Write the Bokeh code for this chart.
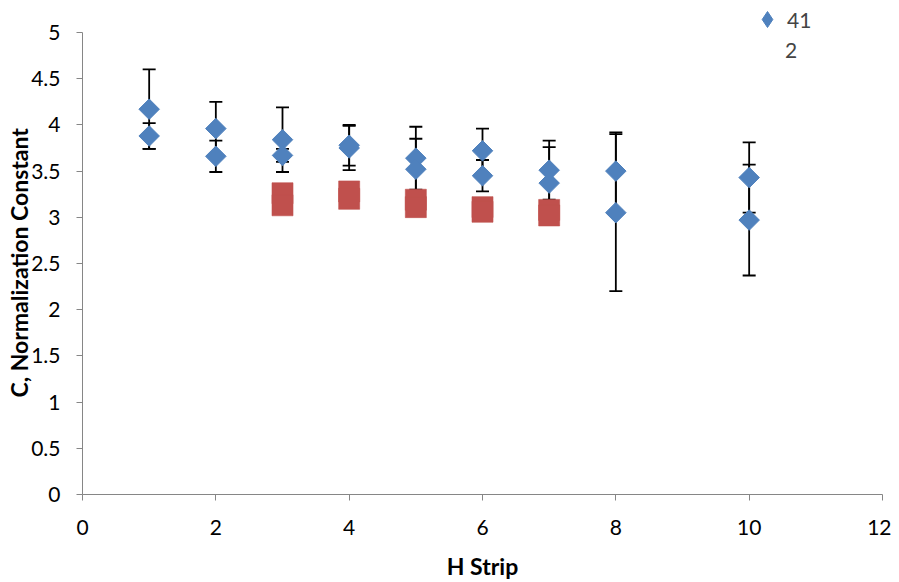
import numpy as np
from bokeh.plotting import figure
from bokeh.models import (ColumnDataSource, Whisker, TeeHead, Legend,
                          LegendItem, FixedTicker, Range1d, Title)
from bokeh.embed import file_html
from bokeh.resources import INLINE

# ---- data ----
x_41 = [1, 1, 2, 2, 3, 3, 4, 4, 5, 5, 6, 6, 7, 7, 8, 8, 10, 10]
y_41 = [4.17, 3.88, 3.96, 3.66, 3.84, 3.67, 3.78, 3.75, 3.64, 3.52,
        3.72, 3.45, 3.51, 3.37, 3.50, 3.05, 3.43, 2.97]
err_41 = [0.43, 0.14, 0.29, 0.17, 0.35, 0.07, 0.22, 0.24, 0.34, 0.33,
          0.24, 0.17, 0.32, 0.39, 0.42, 0.85, 0.38, 0.60]

x_2 = [3, 3, 4, 4, 5, 5, 6, 6, 7, 7]
y_2 = [3.26, 3.13, 3.28, 3.20, 3.19, 3.11, 3.11, 3.06, 3.08, 3.02]

x_ticks = [0, 2, 4, 6, 8, 10, 12]
y_ticks = [0, 0.5, 1, 1.5, 2, 2.5, 3, 3.5, 4, 4.5, 5]

BLUE = "#4F81BD"
RED = "#C0504D"
FONT = "Lato"

src41 = ColumnDataSource(dict(
    x=x_41, y=y_41,
    upper=[a + b for a, b in zip(y_41, err_41)],
    lower=[a - b for a, b in zip(y_41, err_41)],
))
src2 = ColumnDataSource(dict(x=x_2, y=y_2))

# frame spans a little above y=5 so the legend (partly above the axis top) is not clipped
p = figure(width=891, height=582, output_backend="svg", toolbar_location=None,
           x_range=Range1d(0, 12), y_range=Range1d(0, 5 * 490 / 462),
           min_border_left=82, min_border_right=9, min_border_top=4,
           min_border_bottom=88)
p.outline_line_color = None
p.xgrid.visible = False
p.ygrid.visible = False

for ax in (p.xaxis[0], p.yaxis[0]):
    ax.axis_line_color = "#868686"
    ax.major_tick_line_color = "#868686"
    ax.minor_tick_line_color = None
    ax.major_tick_in = 0
    ax.major_tick_out = 6
    ax.major_label_text_font = FONT
    ax.major_label_text_font_size = "21px"
    ax.major_label_text_color = "#000000"
    ax.axis_label_text_font = FONT
    ax.axis_label_text_font_style = "bold"
    ax.axis_label_text_font_size = "23px"
    ax.axis_label_text_color = "#000000"

p.yaxis.bounds = (0, 5)
p.xaxis.ticker = FixedTicker(ticks=x_ticks)
p.yaxis.ticker = FixedTicker(ticks=y_ticks)
p.xaxis.major_label_standoff = 19
p.yaxis.major_label_standoff = 16
p.xaxis.axis_label = "H Strip"
p.xaxis.axis_label_standoff = 14

ytitle = Title(text="C, Normalization Constant", align="left", offset=97,
               standoff=-8, text_font=FONT, text_font_style="bold",
               text_font_size="23px", text_color="#000000")
p.add_layout(ytitle, "left")

# error bars
wh = Whisker(source=src41, base="x", upper="upper", lower="lower",
             dimension="height", line_color="black", line_width=1.8,
             upper_head=TeeHead(size=13, line_color="black", line_width=1.8),
             lower_head=TeeHead(size=13, line_color="black", line_width=1.8),
             level="underlay")
p.add_layout(wh)

r41 = p.scatter("x", "y", source=src41, marker="square", angle=np.pi / 4,
                size=14.5, fill_color=BLUE, line_color=BLUE)
r2 = p.scatter("x", "y", source=src2, marker="square", size=21,
               fill_color=RED, line_color=RED, line_alpha=0.6)

# legend keys (hidden renderers): a diamond for "41", nothing for "2"
key41 = p.scatter("x", "y", source=src41, marker="diamond",
                  fill_color=BLUE, line_color=BLUE, visible=False)
key2 = p.scatter("x", "y", source=src2, marker="square",
                 fill_alpha=0, line_alpha=0, visible=False)

leg_common = dict(padding=0, margin=0, spacing=0, label_standoff=0,
                  border_line_color=None, background_fill_alpha=0,
                  label_text_font=FONT, label_text_font_size="21px")
legend1 = Legend(items=[LegendItem(label="41", renderers=[key41])],
                 location=(665, 455), glyph_width=40, glyph_height=40,
                 label_height=40, **leg_common)
legend2 = Legend(items=[LegendItem(label="2", renderers=[key2])],
                 location=(702, 430), glyph_width=1, glyph_height=30,
                 label_height=30, **leg_common)
p.add_layout(legend1)
p.add_layout(legend2)

open("out.html", "w").write(file_html(p, INLINE))
